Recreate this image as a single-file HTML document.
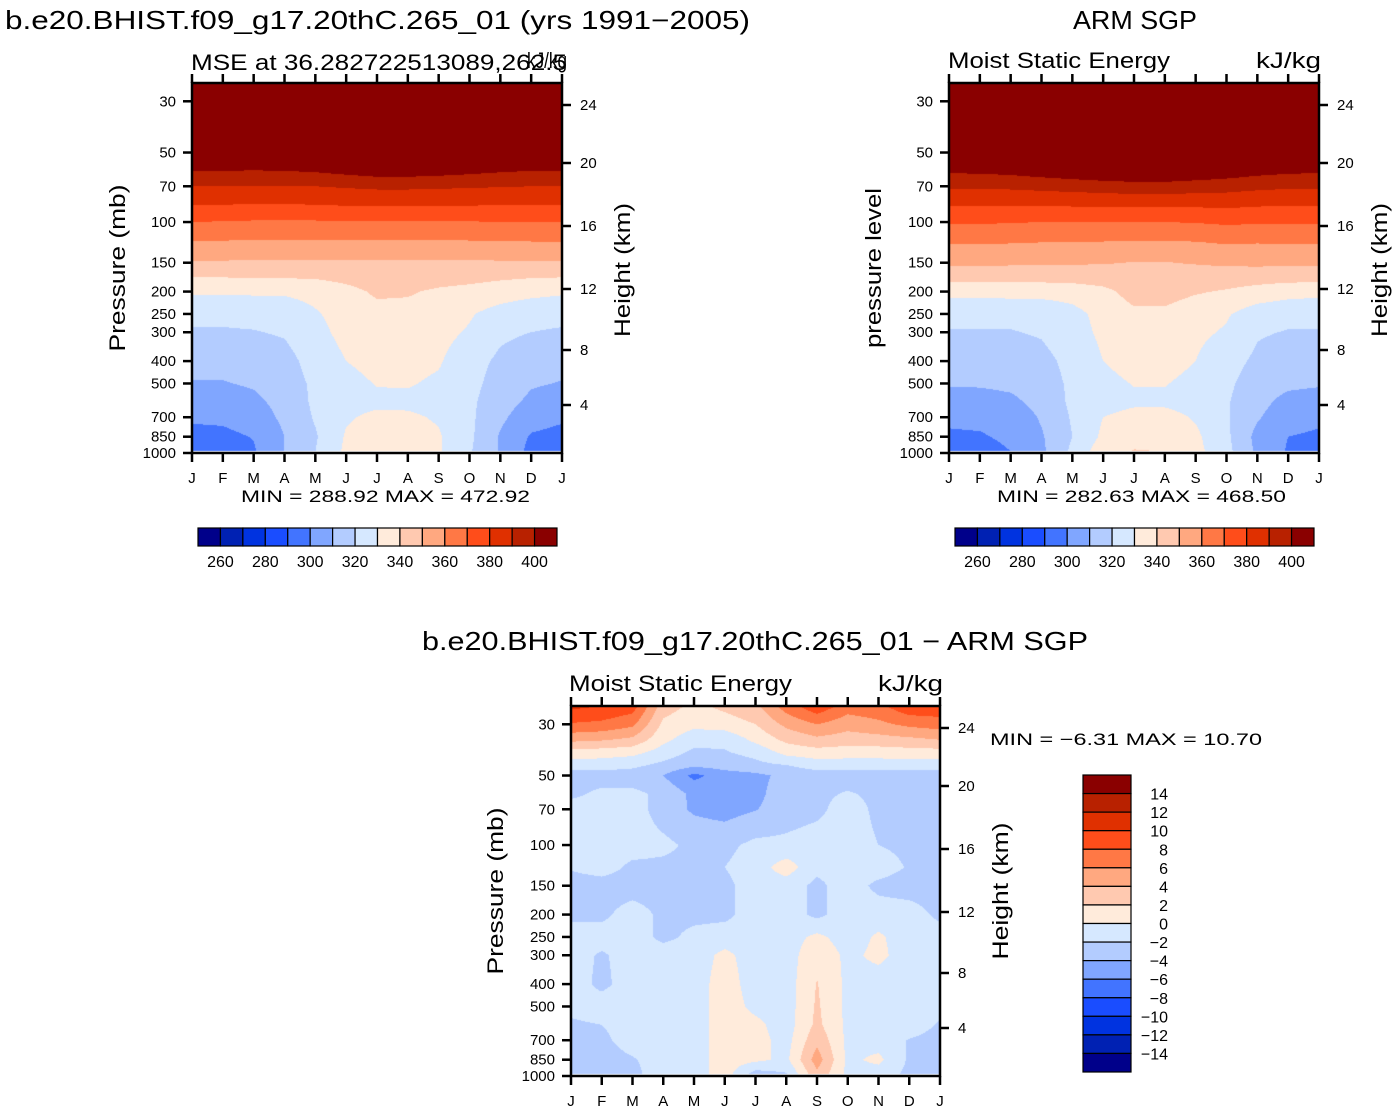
<!DOCTYPE html>
<html><head><meta charset="utf-8">
<style>
html,body{margin:0;padding:0;background:#fff;}
#wrap{position:relative;width:1396px;height:1112px;overflow:hidden;background:#fff;}
canvas{position:absolute;}
svg{position:absolute;left:0;top:0;}
text{font-family:"Liberation Sans",sans-serif;fill:#000;}
</style></head>
<body>
<div id="wrap">
<canvas id="cv1" width="370" height="370" style="left:192px;top:83px"></canvas>
<canvas id="cv2" width="370" height="370" style="left:949px;top:83px"></canvas>
<canvas id="cv3" width="369" height="370" style="left:571px;top:706px"></canvas>
<svg id="svg" width="1396" height="1112">
<text x="5" y="29" font-size="26" textLength="745" lengthAdjust="spacingAndGlyphs">b.e20.BHIST.f09_g17.20thC.265_01 (yrs 1991−2005)</text>
<text x="1073" y="29" font-size="26" textLength="124" lengthAdjust="spacingAndGlyphs">ARM SGP</text>
<text x="191" y="70" font-size="22" textLength="376" lengthAdjust="spacingAndGlyphs">MSE at 36.282722513089,262.5</text>
<text x="527" y="68" font-size="22" textLength="40" lengthAdjust="spacingAndGlyphs">kJ/kg</text>
<text x="948" y="68" font-size="22" textLength="222" lengthAdjust="spacingAndGlyphs">Moist Static Energy</text>
<text x="1256" y="68" font-size="22" textLength="65" lengthAdjust="spacingAndGlyphs">kJ/kg</text>
<text x="422" y="650" font-size="26" textLength="666" lengthAdjust="spacingAndGlyphs">b.e20.BHIST.f09_g17.20thC.265_01 − ARM SGP</text>
<text x="569" y="691" font-size="22" textLength="223" lengthAdjust="spacingAndGlyphs">Moist Static Energy</text>
<text x="878" y="691" font-size="22" textLength="65" lengthAdjust="spacingAndGlyphs">kJ/kg</text>
<text x="241" y="502" font-size="17" textLength="289" lengthAdjust="spacingAndGlyphs">MIN = 288.92 MAX = 472.92</text>
<text x="997" y="502" font-size="17" textLength="289" lengthAdjust="spacingAndGlyphs">MIN = 282.63 MAX = 468.50</text>
<text x="990" y="745" font-size="17" textLength="272" lengthAdjust="spacingAndGlyphs">MIN = −6.31 MAX = 10.70</text>
<text transform="translate(125,268) rotate(-90)" text-anchor="middle" font-size="22" textLength="167" lengthAdjust="spacingAndGlyphs">Pressure (mb)</text>
<text transform="translate(630,270) rotate(-90)" text-anchor="middle" font-size="22" textLength="134" lengthAdjust="spacingAndGlyphs">Height (km)</text>
<text transform="translate(881,268) rotate(-90)" text-anchor="middle" font-size="22" textLength="160" lengthAdjust="spacingAndGlyphs">pressure level</text>
<text transform="translate(1387,270) rotate(-90)" text-anchor="middle" font-size="22" textLength="134" lengthAdjust="spacingAndGlyphs">Height (km)</text>
<text transform="translate(503,891) rotate(-90)" text-anchor="middle" font-size="22" textLength="167" lengthAdjust="spacingAndGlyphs">Pressure (mb)</text>
<text transform="translate(1008,891) rotate(-90)" text-anchor="middle" font-size="22" textLength="137" lengthAdjust="spacingAndGlyphs">Height (km)</text>
</svg>
</div>
<script>
// ---- data ----
const months = ['J','F','M','A','M','J','J','A','S','O','N','D','J'];
const pTicks = [30,50,70,100,150,200,250,300,400,500,700,850,1000];
const hTicks = [24,20,16,12,8,4];
const hTickOffsets = [105,163,226,289,350,405];
const colors = ['#00008a','#0021b3','#0033e0','#1a4dff','#4274ff','#80a6ff','#b3ccff','#d6e8ff','#ffebdb','#ffc9b0','#ffa880','#ff7845','#ff4d1a','#e03000','#b82100','#8a0000'];
const mseLevelLabels = [260,280,300,320,340,360,380,400];
const diffLevelLabels = [14,12,10,8,6,4,2,0,-2,-4,-6,-8,-10,-12,-14];

const topLevels = [985,850,700,600,500,400,300,250,200,175,150,125,100,85,70,60,50,30,25];
const modelRows = [
[293,294,299,310,320,332,335,335,331,321,309,297,293],
[297,297.5,300.5,310,319,331,334,334,331,322,309,299,297],
[301.5,302,305,312,321,329,332,331.5,329,322,312,304,301.5],
[305.5,306,308,313,322,327,328,328,327,322,314,308,305.5],
[309.5,309.5,311,315,322,327,330.5,330.7,328.5,323,316,311,309.5],
[313,313,314,316.5,324,330,333,333,331,324,318,314,313],
[319,319,319.5,321,327,333,335,335,333,329,322,320,319],
[322.5,322.5,323,324,329,334,337,337,335,331,326,323,322.5],
[331.5,331.5,331.5,331.5,333,337,341.5,341,338.5,337,335,333,331.5],
[339.5,339.5,340,340,340.5,342.5,345,344.5,343.5,342.5,341,340,339.5],
[349,349,348.5,348.5,348.5,348.5,348.5,348.5,348.5,348.5,349,349,349],
[358.5,358,358,358,357.5,357.5,357.5,357.5,357.5,358,358,358.5,358.5],
[370,369.5,369,369,369,369.5,369.5,369.5,369.5,369.5,370,370,370],
[379.5,379.5,379,379,379.5,380,380,380,380,380,379.5,379.5,379.5],
[390,390,389.5,389.5,390,391,392,392,391.5,391,390.5,390,390],
[400,400,399.5,400,401,403,405,405,404,402.5,401,400,400],
[420,420,420,420,420,420,420,420,420,420,420,420,420],
[460,460,460,460,460,460,460,460,460,460,460,460,460],
[470,470,470,470,470,470,470,470,470,470,470,470,470]];
const obsRows = [
[295,296,300,308,322,336,340.5,340,333,323,308,299,295],
[298.5,299,302,309,320,332,337,336,332,322,307,300,298.5],
[302,302.5,304,311,321,330,333.5,333.5,329,321,311,304,302],
[306,306.5,308,313,322,326,328,328,326,321,313,307,306],
[311,311,312,315,322,327,330.5,330.5,327,322,315,312,311],
[314,314,314.5,317,323,330,334,334,330,324,318,315,314],
[319.5,319.5,319.5,321,326,332,335,335,332,329,321,319.5,319.5],
[322,322,322.5,323,327,333,338,338,334,331,325,322.5,322],
[333,333,333.5,333.5,334,337,344,344,341,339,336,334,333],
[343,343,343,343,343.5,345,347.5,347.5,346,345,344,343,343],
[352,352,351.5,351,351,350.5,349.7,349.7,350.5,351.5,352,352,352],
[360,360,359.5,359,358.5,358.5,358,358,358.5,360,359.5,360,360],
[371,371,370.5,370,370,370,370,370,370.5,371.5,371,371,371],
[380,380,380,380,380.5,380.5,381,381,381,381.5,380.5,380,380],
[391.5,391.5,392,393,394,395,396,396,395,394,392.5,391.5,391.5],
[401.5,402,403,405,407,409,410,410,408,406,403.5,402,401.5],
[420,420,420,420,420,420,420,420,420,420,420,420,420],
[460,460,460,460,460,460,460,460,460,460,460,460,460],
[470,470,470,470,470,470,470,470,470,470,470,470,470]];

const diffLevels = [985,850,700,600,500,400,300,250,200,150,125,100,70,60,50,45,40,35,30,25];
const diffRows = [
[-3,-3,-2.5,-1,-1,1,-3,-2.2,3.5,-0.5,-1,-2.5,-3],
[-3,-3,-2.2,-1,-1,1,0.5,-0.5,5,-0.5,0.5,-2.3,-3],
[-2.7,-2.5,-1,-1,-1,1,0.8,-0.8,3.5,-0.5,-1,-2.1,-2.7],
[-2.3,-2,-1,-1,-1,1,0.5,-1,2.5,-0.5,-1,-1,-2.2],
[-1.5,-1,-1,-1,-1,1,-0.5,-1,2.3,-0.5,-1,-1,-1.5],
[-1,-2.5,-1,-1,-1,1,-1,-1,2.1,-0.5,-1,-1,-1],
[-1,-2.3,-1,-1,-1,0.5,-1,-1,1.5,-0.5,0.5,-1,-1],
[-1,-1,-1,-2.5,-1.5,-1,-1,-1,0.5,-1,0.3,-1,-1],
[-2.5,-2.5,-1,-2.5,-2.5,-2.5,-1,-1,-2.5,-1,-1,-1,-2.5],
[-3,-3,-3,-3,-3,-2.5,-1,-1,-2.5,-1,-2.5,-3,-3],
[-1.8,-1,-2.5,-2.5,-2.5,-2,-1,1,-1.5,-1,-1,-2.2,-2.2],
[-1,-1,-1,-1.5,-2.5,-2.5,-1.5,-1.5,-1,-1,-2,-2.5,-2.5],
[-1,-1,-1,-3,-4.3,-4.8,-4.1,-3,-2.5,-1,-2.5,-2.5,-2.5],
[-2.5,-1.5,-1.5,-2.5,-4.5,-5,-4.5,-3,-2.5,-1.8,-2.5,-2.5,-2.5],
[-3,-3,-3,-4,-6.5,-5,-4.5,-3.5,-3,-3,-3,-3,-3],
[-1,-1,-1.5,-2.5,-3.5,-3,-2.5,-2,-1,-1,-1,-1,-1],
[1,0.8,0.5,-1,-2.5,-2.2,-1.5,0.5,1,0.8,0.8,1,1],
[4.5,4.2,3.5,0.5,-1.2,-1.5,0.5,2.5,3.5,3,3.2,3.5,4],
[7.8,7.5,6.5,1.5,0.5,1,2,4.5,6,4.8,5.5,6.5,7],
[10.5,10,9,3,1.5,2.5,3.5,7,9.5,7,7.5,9.5,9.5]];

// ---- scales ----
const P_TOP = 25, P_BOT = 1000;
const D = Math.log10(P_BOT / P_TOP);
function yScale(p, y0, y1){ return y1 - (Math.log10(P_BOT) - Math.log10(p)) / D * (y1 - y0); }
function xScale(i, x0, x1){ return x0 + i / (months.length - 1) * (x1 - x0); }

function hexToRgb(h){ return [parseInt(h.substr(1,2),16),parseInt(h.substr(3,2),16),parseInt(h.substr(5,2),16)]; }
const rgb = colors.map(hexToRgb);

function drawField(id, levels, rows, base, step){
  const cv = document.getElementById(id);
  const ctx = cv.getContext('2d');
  const W = cv.width, H = cv.height;
  const img = ctx.createImageData(W, H);
  const lp = levels.map(p => Math.log10(p));
  const pMax = levels[0];
  for (let py = 0; py < H; py++){
    const logp = Math.log10(P_TOP) + (py + 0.5) / H * D;
    if (logp > Math.log10(pMax)) continue;
    let k = 0;
    while (k < lp.length - 2 && logp < lp[k+1]) k++;
    let t = (lp[k] - logp) / (lp[k] - lp[k+1]);
    t = Math.max(0, Math.min(1, t));
    for (let px = 0; px < W; px++){
      const m = (px + 0.5) / W * (months.length - 1);
      let j = Math.min(Math.floor(m), months.length - 2);
      const s = m - j;
      const a = rows[k][j]*(1-s) + rows[k][j+1]*s;
      const b = rows[k+1][j]*(1-s) + rows[k+1][j+1]*s;
      const v = a*(1-t) + b*t;
      let ci = Math.floor((v - base) / step);
      ci = Math.max(0, Math.min(colors.length - 1, ci));
      const o = (py*W + px)*4;
      img.data[o] = rgb[ci][0]; img.data[o+1] = rgb[ci][1]; img.data[o+2] = rgb[ci][2]; img.data[o+3] = 255;
    }
  }
  ctx.putImageData(img, 0, 0);
}
drawField('cv1', topLevels, modelRows, 250, 10);
drawField('cv2', topLevels, obsRows, 250, 10);
drawField('cv3', diffLevels, diffRows, -16, 2);

// ---- axes ----
const svg = document.getElementById('svg');
const NS = 'http://www.w3.org/2000/svg';
function mk(tag, attrs, parent){
  const e = document.createElementNS(NS, tag);
  for (const k in attrs) e.setAttribute(k, attrs[k]);
  (parent || svg).appendChild(e);
  return e;
}
function axes(prefix, x0, x1, y0, y1, hOffset){
  const g = mk('g', {});
  
  
  const frame = mk('rect', {x:x0, y:y0, width:x1-x0, height:y1-y0, fill:'none', stroke:'#000', 'stroke-width':2.5}, g);
  
  
  months.forEach((m, i) => {
    const x = xScale(i, x0, x1);
    mk('line', {x1:x, y1:y1, x2:x, y2:y1+9, stroke:'#000', 'stroke-width':2.5}, g);
    mk('line', {x1:x, y1:y0-9, x2:x, y2:y0, stroke:'#000', 'stroke-width':2.5}, g);
    const t = mk('text', {x:x, y:y1+30, 'text-anchor':'middle', 'font-size':15}, g);
    t.textContent = m;
    
    
  });
  pTicks.forEach(p => {
    const y = yScale(p, y0, y1);
    mk('line', {x1:x0-9, y1:y, x2:x0, y2:y, stroke:'#000', 'stroke-width':2.5}, g);
    const t = mk('text', {x:x0-16, y:y+5, 'text-anchor':'end', 'font-size':15}, g);
    t.textContent = p;
    
    
  });
  hTicks.forEach((h, i) => {
    const y = hTickOffsets[i] + hOffset;
    mk('line', {x1:x1, y1:y, x2:x1+9, y2:y, stroke:'#000', 'stroke-width':2.5}, g);
    const t = mk('text', {x:x1+18, y:y+5, 'font-size':15}, g);
    t.textContent = h;
    
    
  });
}
axes('model', 192, 562, 83, 453, 0);
axes('obs', 949, 1319, 83, 453, 0);
axes('diff', 571, 940, 706, 1076, 623);

// ---- colorbars ----
function hbar(prefix, x0, x1, y0, y1){
  const g = mk('g', {});
  
  
  const w = (x1 - x0) / colors.length;
  colors.forEach((c, i) => {
    const r = mk('rect', {x:x0 + i*w, y:y0, width:w, height:y1-y0, fill:c, stroke:'#000', 'stroke-width':1.2}, g);
    
    
  });
  mseLevelLabels.forEach(v => {
    const idx = (v - 250) / 10;
    const t = mk('text', {x:x0 + idx*w, y:y1+21, 'text-anchor':'middle', 'font-size':16}, g);
    t.textContent = v;
    
    
  });
}
hbar('model', 198, 557, 528, 546);
hbar('obs', 955, 1314, 528, 546);

(function(){
  const x0 = 1083, x1 = 1131, y0 = 775, y1 = 1072;
  const g = mk('g', {});
  
  
  const h = (y1 - y0) / colors.length;
  colors.slice().reverse().forEach((c, i) => {
    const r = mk('rect', {x:x0, y:y0 + i*h, width:x1-x0, height:h, fill:c, stroke:'#000', 'stroke-width':1.2}, g);
    
    
  });
  diffLevelLabels.forEach((v, i) => {
    const t = mk('text', {x:1168, y:y0 + (i+1)*h + 6, 'text-anchor':'end', 'font-size':16}, g);
    t.textContent = v < 0 ? '−' + (-v) : String(v);
    
    
  });
})();
</script>
</body></html>
